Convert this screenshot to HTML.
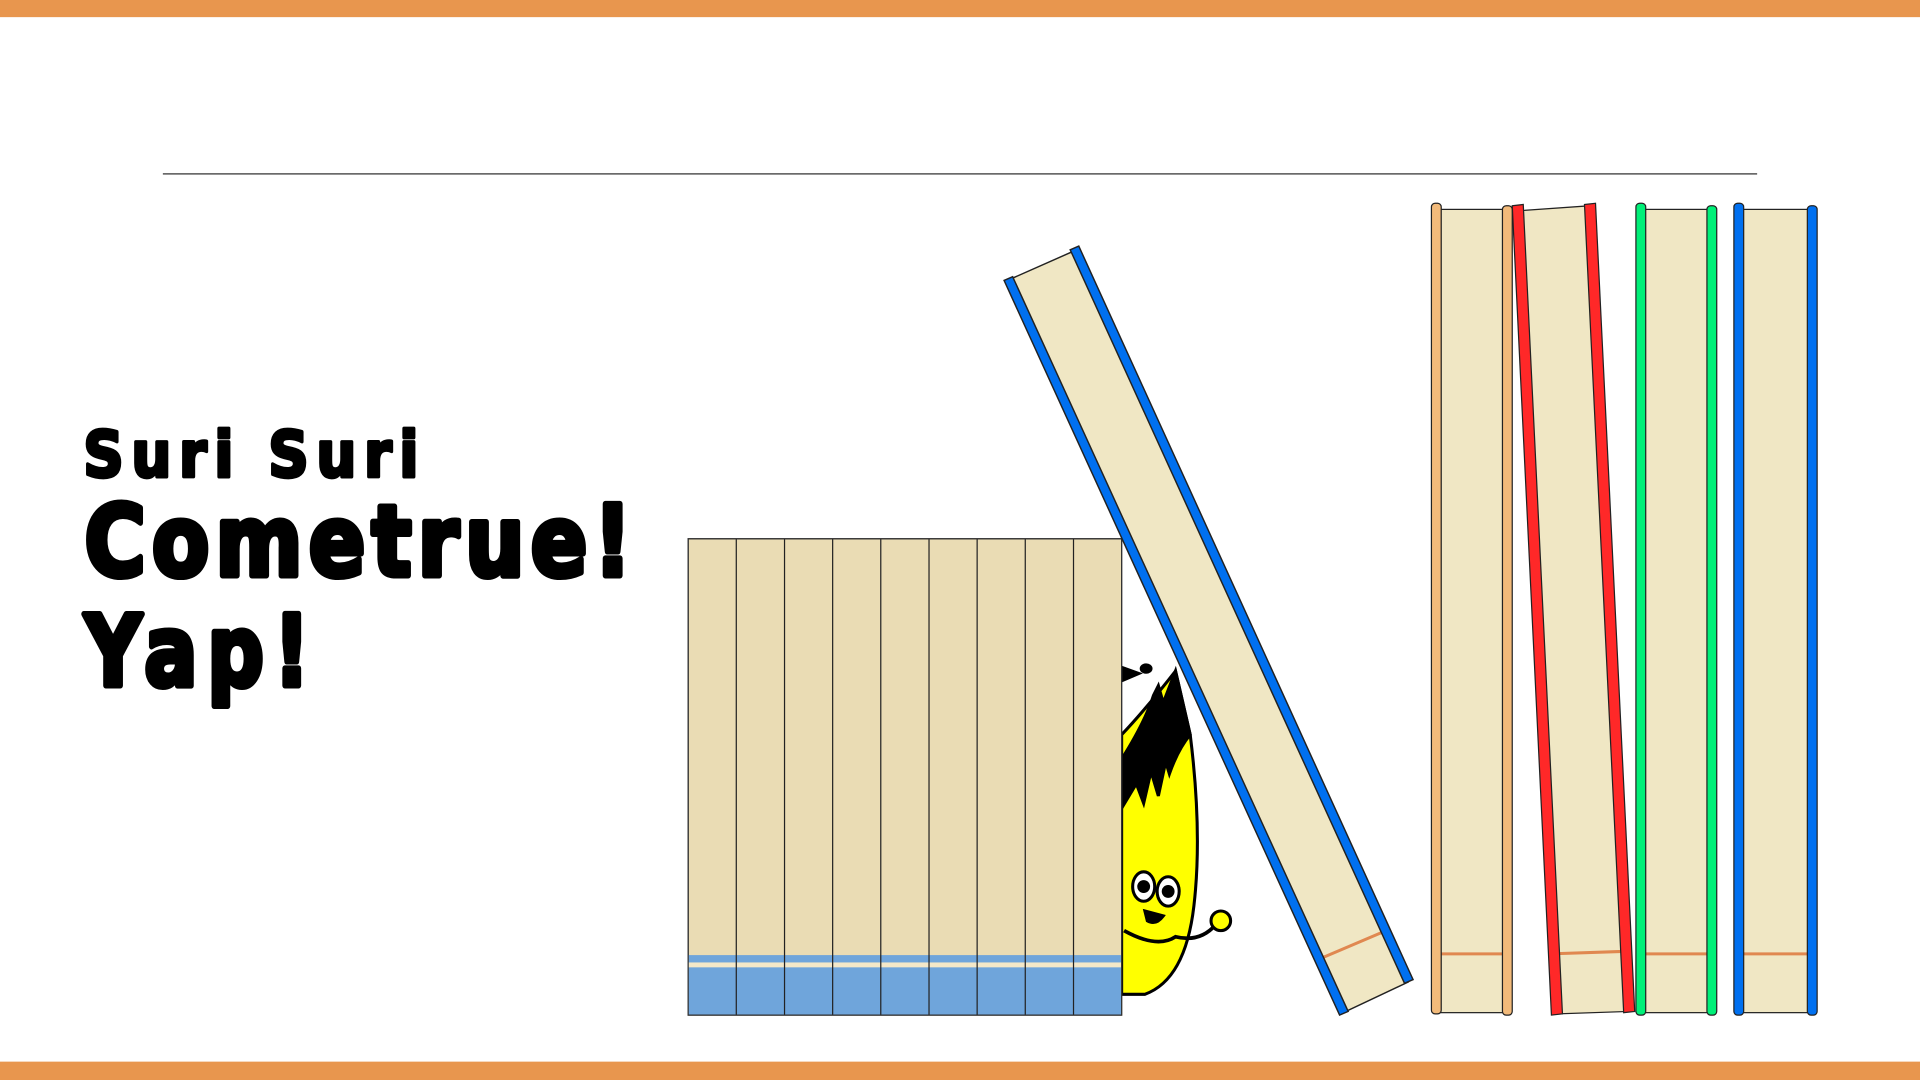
<!DOCTYPE html>
<html><head><meta charset="utf-8"><style>
html,body{margin:0;padding:0;background:#fff;width:1920px;height:1080px;overflow:hidden}
svg{display:block}
.t{font-family:"DejaVu Sans","Liberation Sans",sans-serif;font-weight:bold;fill:#000;stroke:#000;stroke-linejoin:round}
</style></head><body>
<svg width="1920" height="1080" viewBox="0 0 1568 882" xmlns="http://www.w3.org/2000/svg">
<rect x="0" y="0" width="1568" height="14" fill="#e8964e"/>
<rect x="0" y="867" width="1568" height="15" fill="#e8964e"/>
<line x1="133" y1="142" x2="1435" y2="142" stroke="#555" stroke-width="1.2"/>
<g>
<text class="t" x="68" y="389" font-size="52" stroke-width="3" letter-spacing="7" textLength="280" lengthAdjust="spacingAndGlyphs">Suri Suri</text>
<text class="t" x="69" y="470" font-size="80" stroke-width="5" letter-spacing="6" textLength="452" lengthAdjust="spacingAndGlyphs">Cometrue!</text>
<text class="t" x="69" y="560" font-size="80" stroke-width="5" letter-spacing="10" textLength="192" lengthAdjust="spacingAndGlyphs">Yap!</text>
</g>
<g stroke="#000" stroke-width="2.5">
<path d="M960 548 L972 600 Q982 680 975 740 Q968 800 935 812 L916 812 L916 600 Q935 580 960 548Z" fill="#ffff00"/>
<path d="M960 548 L972 600 Q962 612 955 632 L952 622 L946 650 L940 630 L934 656 L928 640 L916 660 L916 620 Q935 590 942 568 L946 560 L950 574Z" fill="#000"/>
<path d="M916 545 L930 550 L916 556Z" fill="#000"/>
<ellipse cx="936" cy="546" rx="4" ry="3" fill="#000"/>
<ellipse cx="934" cy="724" rx="9" ry="12" fill="#fff"/>
<ellipse cx="954" cy="728" rx="9" ry="12" fill="#fff"/>
<circle cx="934" cy="724" r="4" fill="#000"/>
<circle cx="954" cy="728" r="4" fill="#000"/>
<path d="M918 760 Q945 775 960 765 Q980 770 993 755" fill="none" stroke-width="3"/>
<circle cx="997" cy="752" r="8" fill="#ffff00"/>
<path d="M935 744 L950 748 Q944 756 937 752Z" fill="#000"/>
</g>
<g>
<rect x="562" y="440" width="354" height="389" fill="#eadcb4" stroke="#333"/>
<rect x="562" y="780" width="354" height="49" fill="#6fa5db"/>
<rect x="562" y="786" width="354" height="4" fill="#f4e8c8"/>
<g stroke="#222" stroke-width="1">
<line x1="601.3" y1="440" x2="601.3" y2="829"/><line x1="640.7" y1="440" x2="640.7" y2="829"/>
<line x1="680" y1="440" x2="680" y2="829"/><line x1="719.3" y1="440" x2="719.3" y2="829"/>
<line x1="758.7" y1="440" x2="758.7" y2="829"/><line x1="798" y1="440" x2="798" y2="829"/>
<line x1="837.3" y1="440" x2="837.3" y2="829"/><line x1="876.7" y1="440" x2="876.7" y2="829"/>
</g>
<rect x="562" y="440" width="354" height="389" fill="none" stroke="#333"/>
</g>
<g stroke="#222" stroke-width="1.2">
<polygon points="825,228 877,205 1150,802 1097,827" fill="#f0e7c4"/>
<line x1="1078" y1="783" x2="1132" y2="760" stroke="#e08850" stroke-width="2.5"/>
<polygon points="820,229 827,226 1101,826 1094,829" fill="#0070f0"/>
<polygon points="874,204 881,201 1154,800 1147,803" fill="#0070f0"/>
</g>
<g stroke="#222" stroke-width="1">
<rect x="1174" y="171" width="56" height="656" fill="#f0e7c4"/>
<line x1="1174" y1="779" x2="1230" y2="779" stroke="#e08850" stroke-width="2.5"/>
<rect x="1169" y="166" width="8" height="662" rx="3" fill="#f2ba7a"/>
<rect x="1227" y="168" width="8" height="661" rx="3" fill="#f2ba7a"/>
<polygon points="1242,172 1299,168 1330,826 1272,828" fill="#f0e7c4"/>
<line x1="1266" y1="779" x2="1325" y2="777" stroke="#e08850" stroke-width="2.5"/>
<polygon points="1235,168 1244,167 1276,828 1267,829" fill="#ff2828"/>
<polygon points="1294,167 1303,166 1335,826 1326,827" fill="#ff2828"/>
<rect x="1341" y="171" width="57" height="656" fill="#f0e7c4"/>
<line x1="1341" y1="779" x2="1398" y2="779" stroke="#e08850" stroke-width="2.5"/>
<rect x="1336" y="166" width="8" height="663" rx="3" fill="#00f078"/>
<rect x="1394" y="168" width="8" height="661" rx="3" fill="#00f078"/>
<rect x="1421" y="171" width="58" height="656" fill="#f0e7c4"/>
<line x1="1421" y1="779" x2="1479" y2="779" stroke="#e08850" stroke-width="2.5"/>
<rect x="1416" y="166" width="8" height="663" rx="3" fill="#0070f0"/>
<rect x="1476" y="168" width="8" height="661" rx="3" fill="#0070f0"/>
</g>
</svg>
</body></html>
